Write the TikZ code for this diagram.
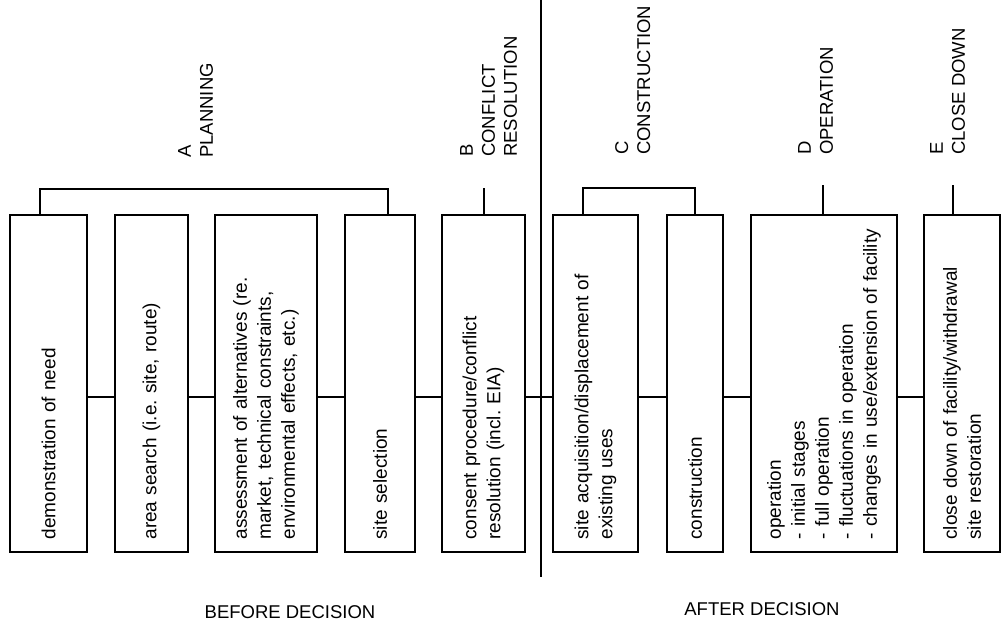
\documentclass[tikz,border=0pt]{standalone}
\usepackage{fontspec}
\setmainfont{Liberation Sans}
\usetikzlibrary{positioning,calc}
\tikzset{block/.style={draw,line width=1.7pt,rotate=90,align=left,text width=312pt,inner xsep=12.5pt,inner ysep=0pt,font=\fontsize{19}{24}\selectfont},
phase/.style={rotate=90,anchor=north west,align=left,inner sep=0pt,font=\fontsize{18.5}{22}\selectfont},
decision/.style={inner sep=0pt,font=\fontsize{18.5}{22}\selectfont},
edge/.style={line width=1.7pt},divider/.style={line width=1.2pt}}
\begin{document}
\begin{tikzpicture}[x=1pt,y=-1pt]
\useasboundingbox (0,0) rectangle (1006,628);
% stages
\node[block,minimum height=77pt](need)at(48.5,383.5){demonstration of need};
\node[block,minimum height=73pt](search)at(151.5,383.5){area search (i.e.\ site, route)};
\node[block,minimum height=102pt](altern)at(266,383.5){assessment of alternatives (re.\\market, technical constraints,\\environmental effects, etc.)};
\node[block,minimum height=70pt](select)at(380,383.5){site selection};
\node[block,minimum height=83pt](consent)at(483.5,383.5){consent procedure/conflict\\resolution (incl.\ EIA)};
\node[block,minimum height=85pt](acquis)at(595.5,383.5){site acquisition/displacement of\\existing uses};
\node[block,minimum height=56pt](constr)at(695,383.5){construction};
\node[block,minimum height=146pt](oper)at(824,383.5){operation\\- initial stages\\- full operation\\- fluctuations in operation\\- changes in use/extension of facility};
\node[block,minimum height=76pt](close)at(962,383.5){close down of facility/withdrawal\\site restoration};
% phase headings
\node[phase](hA)at(178,158){A\\PLANNING};
\node[phase](hB)at(460,157){B\\CONFLICT\\RESOLUTION};
\node[phase](hC)at(615,155){C\\CONSTRUCTION};
\node[phase](hD)at(798,155){D\\OPERATION};
\node[phase](hE)at(930,155){E\\CLOSE DOWN};
\node[decision](before)at(290,612){BEFORE DECISION};
\node[decision](after)at(762,609){AFTER DECISION};
% brackets and links
\coordinate(pl)at(40,189);\coordinate(pr)at(388,189);\coordinate(bt)at(484,188);
\coordinate(cl)at(583,188);\coordinate(cr)at(695,188);\coordinate(dt)at(823,185);\coordinate(et)at(953,185);
\coordinate(mid)at(0,397);\coordinate(dtop)at(541,0);\coordinate(dbot)at(541,577);
\draw[edge](need.east-|pl)--(pl)--(pr)--(select.east-|pr);
\draw[edge](consent.east-|bt)--(bt);
\draw[edge](acquis.east-|cl)--(cl)--(cr)--(constr.east-|cr);
\draw[edge](oper.east-|dt)--(dt);\draw[edge](close.east-|et)--(et);
\foreach \a/\b in {need/search,search/altern,altern/select,select/consent,consent/acquis,acquis/constr,constr/oper,oper/close}
  \draw[edge](\a.south|-mid)--(\b.north|-mid);
\draw[divider](dtop)--(dbot);
\end{tikzpicture}
\end{document}
